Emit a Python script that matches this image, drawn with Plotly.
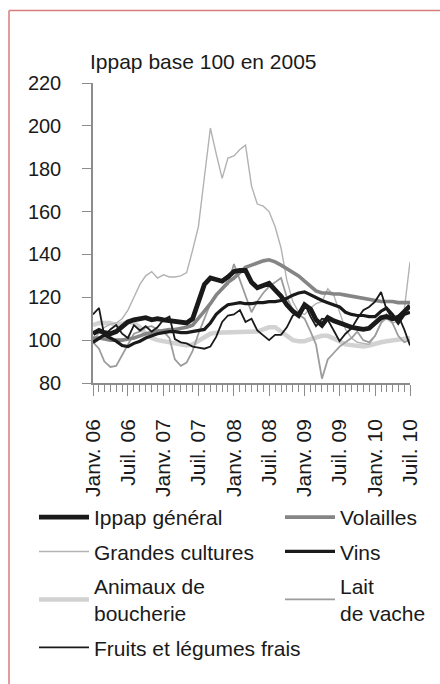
import plotly.graph_objects as go

# ---- data (monthly, Jan 2006 .. Jul 2010) ----
months = [f"{y}-{m:02d}-01" for y in range(2006, 2011) for m in range(1, 13)][:55]
tick_dates = months[::6]
tick_labels = ["Janv. 06", "Juil. 06", "Janv. 07", "Juil. 07", "Janv. 08",
               "Juil. 08", "Janv. 09", "Juil. 09", "Janv. 10", "Juil. 10"]

ippap = [103, 104.5, 103.5, 103, 104, 106, 108.5, 109.5, 110, 110.5,
         109.5, 110, 109.5, 109, 109, 108.5, 108, 110, 118, 126,
         129, 128.5, 127.5, 129.5, 132, 132.5, 132.5, 127, 124.5, 125.5,
         126.5, 123.5, 120.5, 116.5, 113.5, 111.5, 116.5, 114.5, 109.5, 107,
         110.5, 109, 108, 106.5, 106, 105.5, 105, 105.5, 108, 110.5,
         111, 110, 110.5, 113, 116]

grandes_cultures = [100, 103, 106, 107.5, 108, 110, 114, 120, 126, 130,
                    132, 129, 130.5, 129.5, 129.5, 130, 131.5, 142, 153, 176,
                    199, 187, 175.5, 185, 186, 189, 191, 172, 163.5, 162.5,
                    160, 153, 143, 128, 118, 113, 112, 115, 117, 118,
                    124, 121, 113, 105, 101, 99, 98.5, 98, 102, 108,
                    110, 108, 109, 114, 136.5]

animaux = [107, 108, 108, 108, 107, 107.5, 108.5, 108, 106, 103,
           101, 100, 99.5, 99, 98.5, 98, 97.5, 98, 99.5, 101.5,
           103, 103.5, 103.5, 103.5, 104, 103.5, 104, 103.5, 104, 105,
           106, 106, 104, 101.5, 100, 99.5, 99.5, 100.5, 101, 102,
           102, 101, 99.5, 98, 97.5, 97, 97, 97.5, 98, 99,
           99.5, 100, 100.5, 100.5, 101]

fruits = [112, 115, 102, 105, 107, 103, 101, 107, 104.5, 106.5,
          104, 106, 109.5, 111, 100.5, 99, 98.5, 97, 96.5, 96,
          97, 101.5, 108.5, 111.5, 112, 114, 108.5, 110, 104.5, 102,
          100, 102.5, 102.5, 106, 111.5, 113, 117, 111, 106.5, 110,
          109.5, 104.5, 99.5, 103, 105.5, 110, 114, 115.5, 118, 122.5,
          114.5, 110, 111.5, 105, 97.5]

volailles = [101, 101, 100.5, 100, 100, 100, 100.5, 101, 102, 103,
             103.5, 104, 104.5, 105, 105, 105.5, 106, 107, 110, 113.5,
             117, 121, 124, 127, 129, 131.5, 134, 135, 136, 137,
             137.5, 136.5, 135, 133.5, 131.5, 130, 127.5, 125, 123, 122,
             122, 121.5, 121.5, 121, 120.5, 120, 119.5, 119, 118.5, 118,
             118, 118, 117.5, 117.5, 117.5]

vins = [99, 101, 102.5, 101, 99.5, 97.5, 97, 98.5, 99.5, 101,
        102, 103, 103.5, 104, 104, 103.5, 103.5, 104, 104.5, 105,
        108, 112, 114.5, 116.5, 117, 117.5, 117, 117, 117.5, 117.5,
        118, 118, 118.5, 119.5, 121, 122, 122.5, 121, 120, 118.5,
        117.5, 116.5, 115.5, 113, 112, 111.5, 111.5, 111, 111, 113.5,
        115, 112, 108, 112, 113]

lait = [99, 96, 90, 87.5, 88, 93, 98, 103, 104, 106,
        106.5, 105, 104, 101, 91, 88, 89.5, 95, 103, 110,
        117, 121, 124, 126, 135.5, 128, 121, 113, 118, 122,
        125, 127, 129, 120, 114, 112, 110, 104, 98, 82,
        91, 94, 97, 99, 101, 104, 100, 99, 102, 108,
        112, 108, 102, 99, 100]

# ---- layout geometry helpers ----
W, H = 440, 684
ML, MR, MT, MB = 93, 30, 83, 301
PW, PH = W - ML - MR, H - MT - MB


def px_x(px):
    return (px - ML) / PW


def px_y(py):
    return (H - MB - py) / PH


FONT = "Liberation Sans, Arial, sans-serif"
TXT = "#1a1a1a"
AXC = "#8c8c8c"

series = [
    # name, values, color, width, legend, rank
    ("Animaux de<br>boucherie", animaux, "#d2d2d2", 4.5, "legend", 3),
    ("Grandes cultures", grandes_cultures, "#b2b2b2", 1.4, "legend", 2),
    ("Lait<br>de vache", lait, "#9c9c9c", 1.8, "legend2", 3),
    ("Volailles", volailles, "#858585", 3.6, "legend2", 1),
    ("Fruits et légumes frais", fruits, "#1a1a1a", 1.8, "legend", 4),
    ("Vins", vins, "#1a1a1a", 3.2, "legend2", 2),
    ("Ippap général", ippap, "#1a1a1a", 4.8, "legend", 1),
]

fig = go.Figure()
for name, vals, col, w, leg, rank in series:
    fig.add_trace(go.Scatter(
        x=months, y=vals, mode="lines", name=name,
        line=dict(color=col, width=w),
        legend=leg, legendgroup=name, legendrank=rank,
        hoverinfo="skip",
    ))

legend_common = dict(
    xref="paper", yref="paper", xanchor="left", yanchor="top",
    font=dict(family=FONT, size=21, color=TXT),
    itemwidth=50, tracegroupgap=4, bgcolor="rgba(0,0,0,0)",
    orientation="v", itemclick=False, itemdoubleclick=False,
)

fig.update_layout(
    width=W, height=H,
    margin=dict(l=ML, r=MR, t=MT, b=MB, pad=0, autoexpand=False),
    paper_bgcolor="white", plot_bgcolor="white",
    font=dict(family=FONT, size=20, color=TXT),
    showlegend=True,
    legend=dict(x=px_x(34), y=px_y(497), **legend_common),
    legend2=dict(x=px_x(280), y=px_y(497), **legend_common),
    xaxis=dict(
        type="date",
        range=[months[0], months[-1]],
        tickmode="array",
        tickvals=tick_dates, ticktext=tick_labels,
        tickangle=-90, ticks="outside", ticklen=11, tickwidth=1.2,
        tickcolor=AXC, showline=True, linecolor=AXC, linewidth=1.5,
        showgrid=False, zeroline=False, ticklabelstandoff=15,
        tickfont=dict(family=FONT, size=21, color=TXT),
        minor=dict(dtick="M1", tick0=months[0], ticks="outside",
                   ticklen=7, tickwidth=1, tickcolor=AXC, showgrid=False),
        fixedrange=True,
    ),
    yaxis=dict(
        range=[80, 220], dtick=20, tick0=80,
        ticks="outside", ticklen=9, tickwidth=1.2, tickcolor=AXC,
        showline=True, linecolor=AXC, linewidth=1.5,
        showgrid=False, zeroline=False, ticklabelstandoff=17,
        tickfont=dict(family=FONT, size=20, color=TXT),
        fixedrange=True,
    ),
    annotations=[dict(
        text="Ippap base 100 en 2005", xref="paper", yref="paper",
        x=px_x(88), y=px_y(62), xanchor="left", yanchor="middle",
        showarrow=False, font=dict(family=FONT, size=21, color=TXT),
    )],
    shapes=[
        dict(type="line", xref="paper", yref="paper",
             x0=px_x(9), x1=px_x(445), y0=px_y(10.5), y1=px_y(10.5),
             line=dict(color="#d77d7d", width=1.5)),
        dict(type="line", xref="paper", yref="paper",
             x0=px_x(9), x1=px_x(9), y0=px_y(10.5), y1=px_y(690),
             line=dict(color="#d77d7d", width=1.5)),
    ],
)

fig.write_html("out.html", config={"displayModeBar": False},
               post_script="document.body.style.margin='0px';")
